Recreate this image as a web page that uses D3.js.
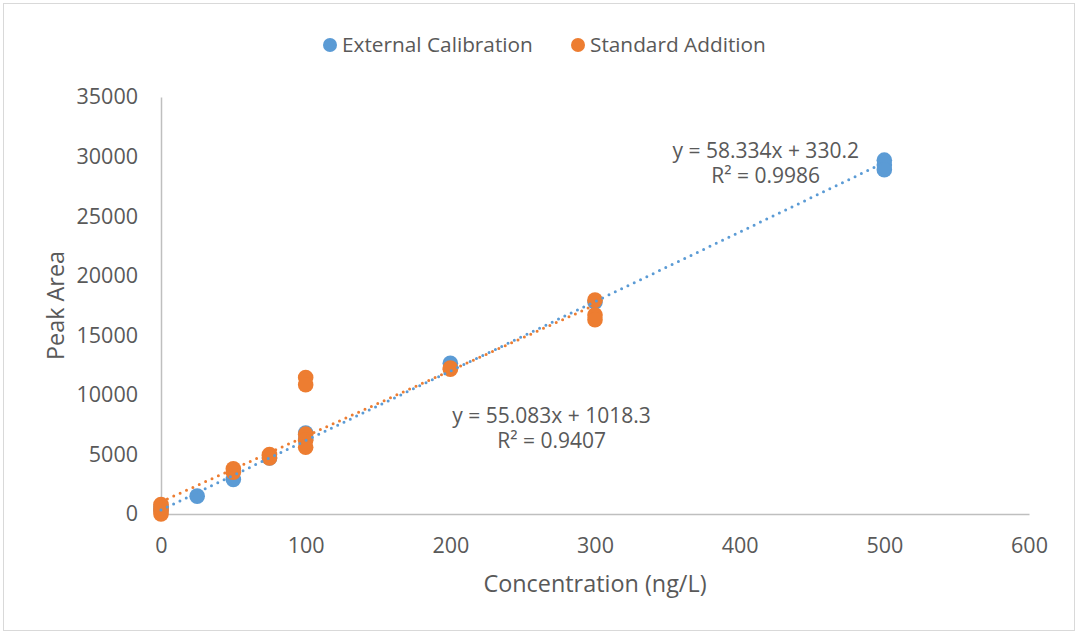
<!DOCTYPE html>
<html>
<head>
<meta charset="utf-8">
<script src="https://cdnjs.cloudflare.com/ajax/libs/d3/7.8.5/d3.min.js"></script>
<style>
	body { margin: 0; background: white; }
	svg text { font-family: 'Open Sans', sans-serif; fill: #595959; }
</style>
</head>
<body>
<div id="chart"></div>
<script>
// series values
var extX = [0, 0, 25, 50, 75, 100, 100, 200, 300, 500, 500, 500]
var extY = [300, 600, 1500, 2900, 4700, 6800, 6300, 12650, 17800, 29700, 29300, 28900]
var stdX = [0, 0, 0, 0, 50, 50, 75, 75, 100, 100, 100, 100, 100, 200, 200, 300, 300, 300]
var stdY = [0, 250, 500, 800, 3800, 3500, 5000, 4700, 6700, 6200, 5600, 11450, 10850, 12250, 12150, 17950, 16700, 16300]

// trend line coefficients (slope, intercept) and the x span each covers
var seriesNames = ['External Calibration', 'Standard Addition']
var seriesColors = ['#5B9BD5', '#ED7D31']
var trendSlope = [58.334, 55.083]
var trendIntercept = [330.2, 1018.3]
var trendSpan = [[0, 500], [0, 300]]
var trendLabels = [['y = 58.334x + 330.2', 'R\u00B2 = 0.9986'], ['y = 55.083x + 1018.3', 'R\u00B2 = 0.9407']]
var labelAt = [[418, 29900], [270, 7650]]

var xTicks = [0, 100, 200, 300, 400, 500, 600]
var yTicks = [0, 5000, 10000, 15000, 20000, 25000, 30000, 35000]

var width = 1078, height = 634
var margin = {top: 97, right: 49, bottom: 120, left: 161}

var svg = d3.select('#chart').append('svg')
	.attr('width', width)
	.attr('height', height)

svg.append('rect')
	.attr('x', 3.5).attr('y', 3.5)
	.attr('width', width - 7).attr('height', height - 7)
	.attr('fill', 'white')
	.attr('stroke', '#d9d9d9')

var x = d3.scaleLinear().domain([0, 600]).range([margin.left, width - margin.right])
var y = d3.scaleLinear().domain([0, 35000]).range([height - margin.bottom, margin.top])

// axes
var xAxis = svg.append('g')
	.attr('transform', 'translate(0,' + y(0) + ')')
	.call(d3.axisBottom(x).tickValues(xTicks).tickSize(0).tickPadding(24).tickFormat(d3.format('d')))
xAxis.select('.domain').attr('stroke', '#bfbfbf').attr('stroke-width', 1.5)
xAxis.selectAll('text').style('font-size', '21.5px').attr('fill', '#595959')

var yAxis = svg.append('g')
	.attr('transform', 'translate(' + x(0) + ',0)')
	.call(d3.axisLeft(y).tickValues(yTicks).tickSize(0).tickPadding(23).tickFormat(d3.format('d')))
yAxis.select('.domain').attr('stroke', '#bfbfbf').attr('stroke-width', 1.5)
yAxis.selectAll('text').style('font-size', '21.5px').attr('fill', '#595959')
svg.selectAll('.tick text').style('font-family', "'Open Sans', sans-serif")

// axis titles
svg.append('text')
	.attr('x', (x(0) + x(600)) / 2)
	.attr('y', 592)
	.attr('text-anchor', 'middle')
	.style('font-size', '23.4px')
	.text('Concentration (ng/L)')

svg.append('text')
	.attr('transform', 'translate(64,' + (y(0) + y(35000)) / 2 + ') rotate(-90)')
	.attr('text-anchor', 'middle')
	.style('font-size', '23.4px')
	.text('Peak Area')

// markers
var sets = [d3.zip(extX, extY), d3.zip(stdX, stdY)]
sets.forEach(function(pts, i) {
	svg.append('g')
		.selectAll('circle')
		.data(pts)
		.enter()
		.append('circle')
		.attr('cx', function(d) { return x(d[0]) })
		.attr('cy', function(d) { return y(d[1]) })
		.attr('r', 7.8)
		.attr('fill', seriesColors[i])
})

// dotted trend lines on top
var line = d3.line().x(function(d) { return x(d[0]) }).y(function(d) { return y(d[1]) })
trendSlope.forEach(function(m, i) {
	var pts = trendSpan[i].map(function(v) { return [v, m * v + trendIntercept[i]] })
	svg.append('path')
		.attr('d', line(pts))
		.attr('fill', 'none')
		.attr('stroke', seriesColors[i])
		.attr('stroke-width', 3)
		.attr('stroke-linecap', 'round')
		.attr('stroke-dasharray', '0,7')
})

// trend equations
trendLabels.forEach(function(lines, i) {
	var t = svg.append('text')
		.attr('x', x(labelAt[i][0]))
		.attr('y', y(labelAt[i][1]))
		.attr('text-anchor', 'middle')
		.style('font-size', '21px')
	lines.forEach(function(s, j) {
		t.append('tspan')
			.attr('x', x(labelAt[i][0]))
			.attr('dy', j === 0 ? 0 : 25)
			.text(s)
	})
})

// legend
var legend = svg.append('g')
var legX = [330, 578]
seriesNames.forEach(function(name, i) {
	legend.append('circle')
		.attr('cx', legX[i]).attr('cy', 45)
		.attr('r', 7)
		.attr('fill', seriesColors[i])
	legend.append('text')
		.attr('x', legX[i] + 12)
		.attr('y', 52)
		.style('font-size', '20.8px')
		.text(name)
})
</script>
</body>
</html>
